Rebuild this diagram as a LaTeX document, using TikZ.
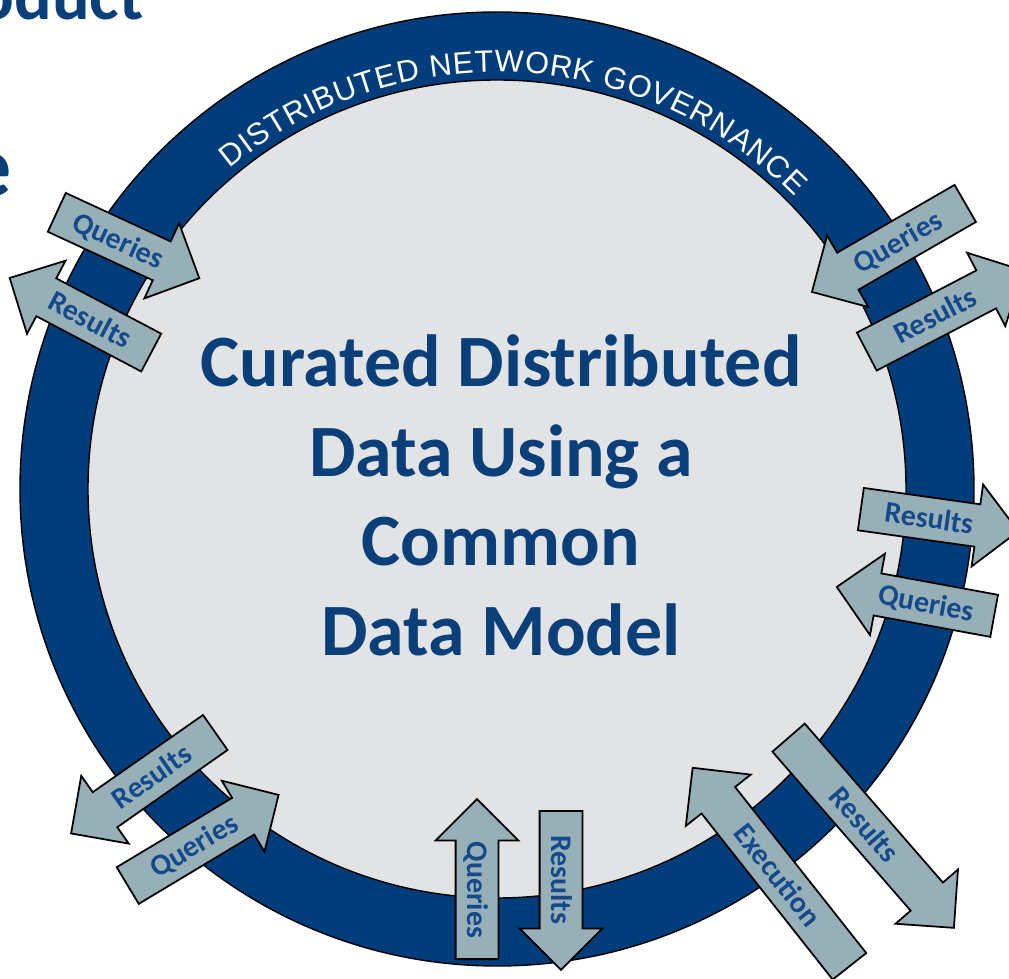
\documentclass[tikz,border=0pt]{standalone}
\usepackage{fontspec}
\setmainfont{Carlito}
\newfontfamily\ringfont{Liberation Sans}
\usetikzlibrary{shapes.arrows,decorations.text}
\definecolor{ringblue}{RGB}{0,61,122}
\definecolor{titleblue}{RGB}{10,63,122}
\definecolor{labelblue}{RGB}{20,74,140}
\definecolor{innergray}{RGB}{226,227,229}
\definecolor{arrowgray}{RGB}{151,176,183}
\tikzset{
  flowarrow/.style={single arrow, draw=black, line width=1pt, fill=arrowgray,
    single arrow head extend=0.4cm, single arrow tip angle=90,
    minimum height=#1, inner xsep=2pt, inner ysep=0.22cm,
    text height=0.38cm, text depth=0cm,
    font=\bfseries\fontsize{17}{17}\selectfont, text=labelblue, anchor=tail},
  flowarrow/.default=3.2cm,
  inward/.style={shape border rotate=180}
}

\begin{document}
\begin{tikzpicture}
  \useasboundingbox (-9.94,-9.80) rectangle (10.24,9.78);
  \clip (-9.94,-9.80) rectangle (10.24,9.78);
  % left-over slide title
  \node[font=\bfseries\fontsize{40}{40}\selectfont, text=titleblue, anchor=base east, inner sep=0pt]
    (titleA) at (-7.06,9.38) {oduct};
  \node[font=\bfseries\fontsize{50}{50}\selectfont, text=titleblue, anchor=base east, inner sep=0pt]
    (titleB) at (-9.70,5.84) {e};
  % ring
  \draw[line width=0.8pt, fill=ringblue] (0,0) circle (9.54);
  \draw[line width=0.8pt, fill=innergray] (0,0) circle (8.18);
  \path[decorate, decoration={text along path, text align={fit to path}, text color=white,
      text={|\ringfont\fontsize{17.5}{17.5}\selectfont|DISTRIBUTED NETWORK GOVERNANCE}}]
    (129.8:8.34) arc (129.8:44.5:8.34);
  \node[font=\bfseries\fontsize{42}{51}\selectfont, text=titleblue, align=center]
    (cdm) at (0.08,-0.13) {Curated Distributed\\Data Using a\\Common\\Data Model};
  % queries in, results out
  \node[flowarrow=3.14cm, rotate=-24.8] (queriesNW) at (-8.82,5.54) {Queries};
  \node[flowarrow=3.2cm, inward, rotate=-27.8] (resultsNW) at (-6.90,2.72) {Results};
  \node[flowarrow=3.54cm, inward, rotate=30] (queriesNE) at (9.38,5.72) {Queries};
  \node[flowarrow=3.52cm, rotate=27.5] (resultsNE) at (7.38,2.74) {Results};
  \node[flowarrow=3.18cm, rotate=-8] (resultsE) at (7.26,-0.40) {Results};
  \node[flowarrow=3.2cm, inward, rotate=-10.4] (queriesE) at (9.96,-2.54) {Queries};
  \node[flowarrow=3.52cm, inward, rotate=35] (resultsSW) at (-5.62,-4.86) {Results};
  \node[flowarrow=3.52cm, rotate=31] (queriesSW) at (-7.40,-7.94) {Queries};
  \node[flowarrow=3.2cm, inward, rotate=-90] (queriesS) at (-0.40,-9.42) {Queries};
  \node[flowarrow=3.18cm, rotate=-90] (resultsS) at (1.28,-6.42) {Results};
  \node[flowarrow=5.06cm, inward, rotate=-51.7] (executionSE) at (7.06,-9.56) {Execution};
  \node[flowarrow=5.04cm, rotate=-49] (resultsSE) at (5.82,-4.96) {Results};
\end{tikzpicture}
\end{document}
